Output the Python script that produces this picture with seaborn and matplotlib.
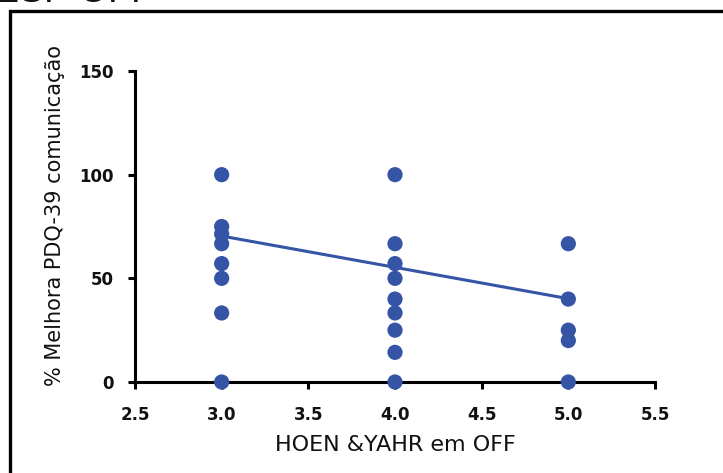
import matplotlib
matplotlib.use("Agg")
import matplotlib.pyplot as plt
import seaborn as sns
import pandas as pd
from matplotlib.patches import Rectangle

# Data
x_h3 = [3.0] * 8
y_h3 = [100, 75, 71.4, 66.7, 57.1, 50, 33.3, 0]
x_h4 = [4.0] * 9
y_h4 = [100, 66.7, 57.1, 50, 40, 33.3, 25, 14.3, 0]
x_h5 = [5.0] * 5
y_h5 = [66.7, 40, 25, 20, 0]

fit_x = [3.0, 5.0]
fit_y = [70.4, 40.2]

x_ticks = [2.5, 3.0, 3.5, 4.0, 4.5, 5.0, 5.5]
y_ticks = [0, 50, 100, 150]

df = pd.DataFrame({"hy": x_h3 + x_h4 + x_h5, "melhora": y_h3 + y_h4 + y_h5})
fit = pd.DataFrame({"hy": fit_x, "melhora": fit_y})

sns.set_theme(style="ticks")
plt.rcParams["font.family"] = ["DejaVu Sans"]

W, H = 723, 473
fig = plt.figure(figsize=(W / 100, H / 100), dpi=100)
ax = fig.add_axes([135 / W, 1 - 382 / H, (655 - 135) / W, (382 - 71) / H])

color = "#3554A6"
sns.lineplot(data=fit, x="hy", y="melhora", ax=ax, color=color, linewidth=2.2, zorder=2)
sns.scatterplot(data=df, x="hy", y="melhora", ax=ax, color=color, s=120,
                edgecolor="none", zorder=3, clip_on=False)

ax.set_xlim(2.5, 5.5)
ax.set_ylim(0, 150)
ax.set_xticks(x_ticks)
ax.set_xticklabels([f"{v:.1f}" for v in x_ticks])
ax.set_yticks(y_ticks)
ax.set_yticklabels([str(v) for v in y_ticks])

for s in ["top", "right"]:
    ax.spines[s].set_visible(False)
for s in ["left", "bottom"]:
    ax.spines[s].set_linewidth(2.2)
    ax.spines[s].set_color("black")
ax.tick_params(axis="both", direction="out", length=5, width=2.2, color="black",
               labelsize=12)
ax.tick_params(axis="y", pad=10)
ax.tick_params(axis="x", pad=12)
for lab in ax.get_xticklabels() + ax.get_yticklabels():
    lab.set_fontweight("bold")
    lab.set_color("#111111")

ax.set_xlabel("HOEN &YAHR em OFF", fontsize=16, color="#111111")
ax.set_ylabel("% Melhora PDQ-39 comunicação", fontsize=15, color="#111111")
ax.xaxis.set_label_coords(0.5, -0.17)
ax.yaxis.set_label_coords(-0.135, 0.535)

# border frame (partially outside the image)
fig.patches.append(Rectangle((9.5 / W, -0.1), 1.2, 1 - 11.5 / H + 0.1,
                             transform=fig.transFigure, fill=False,
                             edgecolor="black", linewidth=2.4))
fig.text(-0.008, 1 - 1.5 / H, "ESP OFF", fontsize=27, color="#111111",
         family="Liberation Sans", ha="left", va="baseline")

fig.savefig("out.png", dpi=100)
